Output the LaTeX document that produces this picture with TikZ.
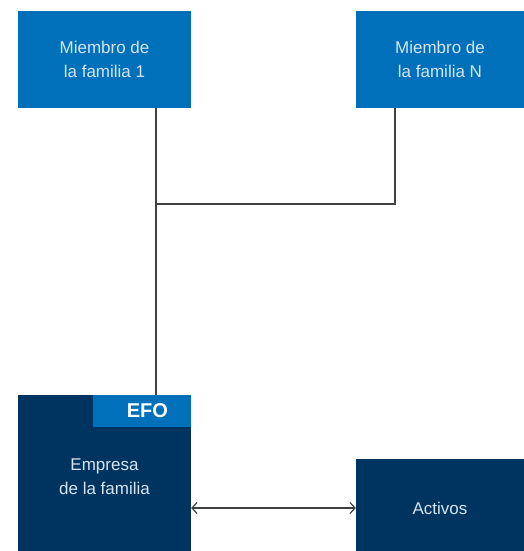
\documentclass[tikz,border=0pt]{standalone}
\usepackage{fontspec}
\setmainfont{Liberation Sans}
\usetikzlibrary{arrows.meta}

\definecolor{famblue}{HTML}{0070BA}
\definecolor{navy}{HTML}{003460}
\definecolor{paletext}{HTML}{D6E4F2}
\definecolor{wire}{HTML}{404040}

\tikzstyle{member} = [align=center,fill=famblue,text=paletext,font=\fontsize{17}{24}\selectfont,rectangle,inner sep=0pt]
\tikzstyle{firm} = [align=center,fill=navy,text=paletext,font=\fontsize{17}{24}\selectfont,rectangle,inner sep=0pt]
\tikzstyle{tag} = [fill=famblue,text=white,font=\fontsize{20}{22}\selectfont\bfseries,rectangle,inner xsep=23pt,inner ysep=0pt,text width=52pt,align=right]
\tikzstyle{wire} = [draw=wire,line width=1.4pt]

\begin{document}
\begin{tikzpicture}[x=1pt,y=-1pt]
	\useasboundingbox (0,0) rectangle (524,551);
	\node (m1) [member,minimum width=173pt,minimum height=96pt] at (104.5,59.5) {Miembro de\\la familia 1};
	\node (mN) [member,minimum width=168pt,minimum height=96pt] at (440,59.5) {Miembro de\\la familia N};
	\node (firm) [firm,minimum width=173pt,minimum height=164pt] at (104.5,477) {Empresa\\de la familia};
	\node (efo) [tag,minimum height=32pt,anchor=north east] at (firm.north east) {EFO};
	\node (assets) [firm,minimum width=168pt,minimum height=98pt] at (440,508) {Activos};
	\coordinate (hub) at (156,204);
	\draw [wire] (m1.south -| hub) -- (firm.north -| hub);
	\draw [wire] (hub) -| ([xshift=-45pt]mN.south);
	\draw [wire,line width=1.2pt,{Straight Barb[length=5pt,width=11pt]}-{Straight Barb[length=5pt,width=11pt]}] (assets.west) -- (assets.west -| firm.east);
\end{tikzpicture}
\end{document}
